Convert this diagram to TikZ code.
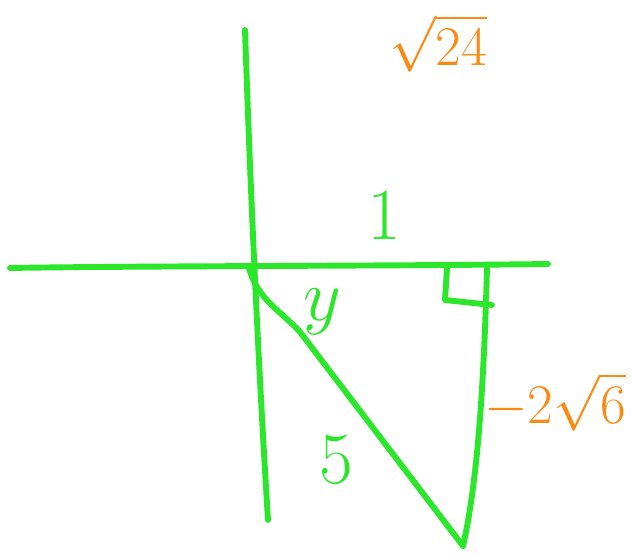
\documentclass[tikz,border=0pt]{standalone}
\usepackage{amsmath,amssymb}
\usepackage{graphicx}
\usepackage{tikz}
\usepackage{xcolor}
\usetikzlibrary{calc,positioning}
\definecolor{chalkgreen}{HTML}{2CE62C}
\definecolor{chalkorange}{HTML}{FA8A14}
\newcommand{\greentext}[1]{\scalebox{2.1}{#1}}
\newcommand{\orangetext}[1]{\scalebox{1.6}{#1}}

\begin{document}
\begin{tikzpicture}[x=0.025cm, y=-0.025cm,
    stroke/.style={chalkgreen, line width=4.2pt, line cap=round, line join=round},
    greenlbl/.style={chalkgreen, font=\Huge, inner sep=0pt},
    orangelbl/.style={chalkorange, font=\Huge, inner sep=0pt}]
    \useasboundingbox (0,0) rectangle (633,554);

    % Triangle corners
    \coordinate (origin) at (249,268);
    \coordinate (foot) at (487,268);
    \coordinate (tip) at (463,546);

    % Axes
    \draw[stroke] (10,268) .. controls (120,266) and (400,266) .. (548,264);
    \draw[stroke] (245,30) .. controls (250,180) and (258,360) .. (268,520);

    % Triangle
    \draw[stroke] (origin) .. controls (258,300) and (280,310) .. (300,332) -- (tip);
    \draw[stroke] (foot) .. controls (484,380) and (478,480) .. (tip);

    % Right angle mark
    \draw[stroke] (447,268) -- (445,300) -- (492,305);

    % Labels
    \node[orangelbl, anchor=north] (hyp) at (438,14) {\orangetext{$\sqrt{24}$}};
    \node[greenlbl] (adj) at (384,215) {\greentext{1}};
    \node[greenlbl] (ang) at (322,312) {\greentext{$y$}};
    \node[greenlbl] (hypval) at (336,460) {\greentext{5}};
    \node[orangelbl] (opp) at (555,402) {\orangetext{$-2\sqrt{6}$}};

\end{tikzpicture}
\end{document}
